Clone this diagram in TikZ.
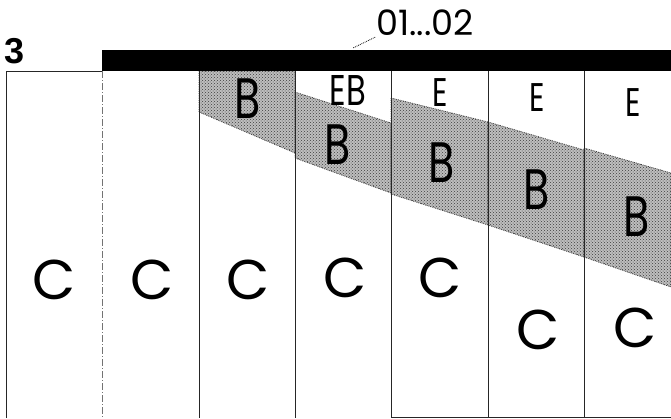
\documentclass[tikz,border=0pt]{standalone}
\usepackage{fontspec}
\setmainfont{Poppins}
\newfontfamily\boldsans{Liberation Sans}
\newfontfamily\slimfont[FakeStretch=0.75]{Poppins}
\usepackage{tikz}
\usetikzlibrary{patterns}
\definecolor{bandgray}{RGB}{190,190,190}
\definecolor{dotgray}{RGB}{60,60,60}

\begin{document}
\begin{tikzpicture}[
    x=1pt, y=-1pt,
    colline/.style={line width=1pt, black!85},
    seamline/.style={line width=0.7pt, black!55, dash pattern=on 7pt off 2pt on 1pt off 2pt},
    zone/.style={preaction={fill=bandgray}, pattern=crosshatch dots, pattern color=dotgray, draw=black!75, densely dotted, line width=0.8pt},
    bigc/.style={font=\fontsize{56}{56}\selectfont, inner sep=0pt},
    bandb/.style={font=\slimfont\fontsize{57}{57}\selectfont, inner sep=0pt},
    tope/.style={font=\slimfont\fontsize{40}{40}\selectfont, inner sep=0pt}
]
    \useasboundingbox (0,0) rectangle (671,418);

    % Hatched band, one piece per column
    \path[zone] (199,71) -- (295,71) -- (295,153) -- (199,112) -- cycle;
    \path[zone] (295,92) -- (391,123) -- (391,193) -- (295,158) -- cycle;
    \path[zone] (391,98) -- (488,122) -- (488,225) -- (391,194) -- cycle;
    \path[zone] (488,122) -- (584,150) -- (584,257) -- (488,225) -- cycle;
    \path[zone] (584,148) -- (671,173) -- (671,287) -- (584,257) -- cycle;

    % Frame and columns
    \draw[colline] (6,418) -- (6,71) -- (102,71);
    \draw[seamline] (102,71) -- (102,418);
    \foreach \x in {199,295,391,488,584}
        \draw[colline] (\x,71) -- (\x,418);
    \draw[colline] (391,417) -- (671,417);

    % Top bar
    \fill[black] (102,50) rectangle (671,71);
    \coordinate (barhit) at (353,48);

    % Labels
    \node[font=\boldsans\bfseries\fontsize{36}{36}\selectfont, inner sep=0pt] (sheet) at (15,51) {3};
    \node[font=\fontsize{35}{35}\selectfont, inner sep=1pt] (range) at (425,23) {01...02};
    \draw[line width=0.8pt, densely dotted] (range.south west) -- (barhit);

    \node[bandb] (b3) at (248,99) {B};
    \node[tope, font=\slimfont\fontsize{43}{43}\selectfont] (eb4) at (348,90) {EB};
    \node[bandb] (b4) at (338,145) {B};
    \node[tope] (e5) at (440,93) {E};
    \node[bandb] (b5) at (442,163) {B};
    \node[tope] (e6) at (537,98) {E};
    \node[bandb] (b6) at (537,190) {B};
    \node[tope] (e7) at (633,103) {E};
    \node[bandb] (b7) at (637,217) {B};

    % Bottom labels
    \node[bigc] (c1) at (54,280) {C};
    \node[bigc] (c2) at (152,280) {C};
    \node[bigc] (c3) at (248,280) {C};
    \node[bigc] (c4) at (345,278) {C};
    \node[bigc] (c5) at (440,278) {C};
    \node[bigc] (c6) at (538,330) {C};
    \node[bigc] (c7) at (635,328) {C};
\end{tikzpicture}
\end{document}
